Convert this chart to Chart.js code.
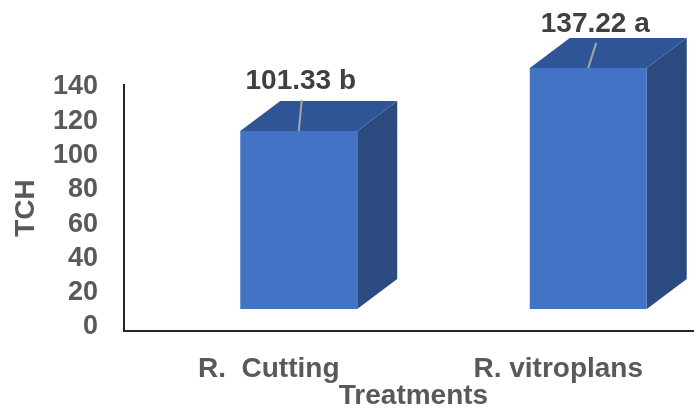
<!DOCTYPE html>
<html>
<head>
<meta charset="utf-8">
<script src="https://cdn.jsdelivr.net/npm/chart.js@4/dist/chart.umd.min.js"></script>
<style>
  html, body { margin: 0; padding: 0; background: #ffffff; overflow: hidden; }
  #wrap { width: 694px; height: 413px; overflow: hidden; }
</style>
</head>
<body>
<div id="wrap"><canvas id="c" width="703" height="413"></canvas></div>
<script>
// Yield (TCH) by propagation treatment
const categories = ['R.  Cutting', 'R. vitroplans'];
const tchValues = [101.33, 137.22];
const significance = ['b', 'a'];
const yTicks = [0, 20, 40, 60, 80, 100, 120, 140];

// 3D box styling
const FRONT = '#4472C4';
const TOP = '#2F5597';
const SIDE = '#2A4A80';
const DEPTH_X = 40;
const DEPTH_Y = 30;
const FRONT_SHIFT = 30;
const LABEL_NUDGE = [[2, -20], [7, -14]];
const FONT = '"Liberation Sans", Arial, sans-serif';

const box3d = {
  id: 'box3d',
  afterDatasetsDraw(chart) {
    const ctx = chart.ctx;
    const meta = chart.getDatasetMeta(0);
    meta.data.forEach((el, i) => {
      const w = el.width;
      const L = el.x + FRONT_SHIFT - w / 2;
      const R = L + w;
      const T = el.y;
      const B = el.base;
      ctx.save();
      // side face
      ctx.fillStyle = SIDE;
      ctx.beginPath();
      ctx.moveTo(R, T); ctx.lineTo(R + DEPTH_X, T - DEPTH_Y);
      ctx.lineTo(R + DEPTH_X, B - DEPTH_Y); ctx.lineTo(R, B);
      ctx.closePath(); ctx.fill();
      // top face
      ctx.fillStyle = TOP;
      ctx.beginPath();
      ctx.moveTo(L, T); ctx.lineTo(L + DEPTH_X, T - DEPTH_Y);
      ctx.lineTo(R + DEPTH_X, T - DEPTH_Y); ctx.lineTo(R, T);
      ctx.closePath(); ctx.fill();
      // front face
      ctx.fillStyle = FRONT;
      ctx.fillRect(L, T, w, B - T);

      // value label with leader line
      const cx = (L + R) / 2;
      const lx = cx + LABEL_NUDGE[i][0];
      const ly = T - DEPTH_Y + LABEL_NUDGE[i][1];
      const text = tchValues[i].toFixed(2) + ' ' + significance[i];
      ctx.strokeStyle = '#A6A6A6';
      ctx.lineWidth = 2;
      ctx.beginPath();
      ctx.moveTo(lx + 1, ly + 19);
      ctx.lineTo(cx, T);
      ctx.stroke();
      ctx.font = 'bold 28px ' + FONT;
      ctx.fillStyle = '#404040';
      ctx.textAlign = 'center';
      ctx.textBaseline = 'middle';
      ctx.fillText(text, lx, ly);
      ctx.restore();
    });
  }
};

new Chart(document.getElementById('c'), {
  type: 'bar',
  data: {
    labels: categories,
    datasets: [{
      label: 'TCH',
      data: tchValues,
      yAxisID: 'yFront',
      backgroundColor: 'rgba(0,0,0,0)',
      borderWidth: 0,
      categoryPercentage: 1,
      barPercentage: 0.404
    }]
  },
  options: {
    responsive: false,
    animation: false,
    events: [],
    layout: { padding: { top: 85, right: 0, bottom: 0, left: 0 } },
    plugins: { legend: { display: false }, tooltip: { enabled: false } },
    scales: {
      x: {
        type: 'category',
        offset: true,
        grid: { display: false, drawTicks: false },
        border: { display: true, color: '#262626', width: 2 },
        ticks: {
          color: '#595959',
          font: { family: FONT, size: 28, weight: 'bold' },
          padding: 21,
          maxRotation: 0,
          autoSkip: false
        },
        title: {
          display: true,
          text: 'Treatments',
          color: '#595959',
          font: { family: FONT, size: 28, weight: 'bold' },
          padding: { top: 0, bottom: 0 }
        },
        afterFit(scale) { scale.height = 82; }
      },
      y: {
        position: 'left',
        min: 0,
        max: 143.5,
        grid: { display: false, drawTicks: false },
        border: { display: true, color: '#262626', width: 2 },
        ticks: {
          stepSize: 20,
          autoSkip: false,
          color: '#595959',
          font: { family: FONT, size: 27, weight: 'bold' },
          padding: 26,
          labelOffset: -4
        },
        afterBuildTicks(scale) {
          scale.ticks = yTicks.map(v => ({ value: v }));
        },
        title: {
          display: true,
          text: 'TCH',
          color: '#595959',
          font: { family: FONT, size: 28, weight: 'bold' },
          padding: { top: 9, bottom: 0 }
        },
        afterFit(scale) { scale.width = 124; }
      },
      yFront: {
        display: false,
        min: -12.52,
        max: 127.5
      }
    }
  },
  plugins: [box3d]
});
</script>
</body>
</html>
